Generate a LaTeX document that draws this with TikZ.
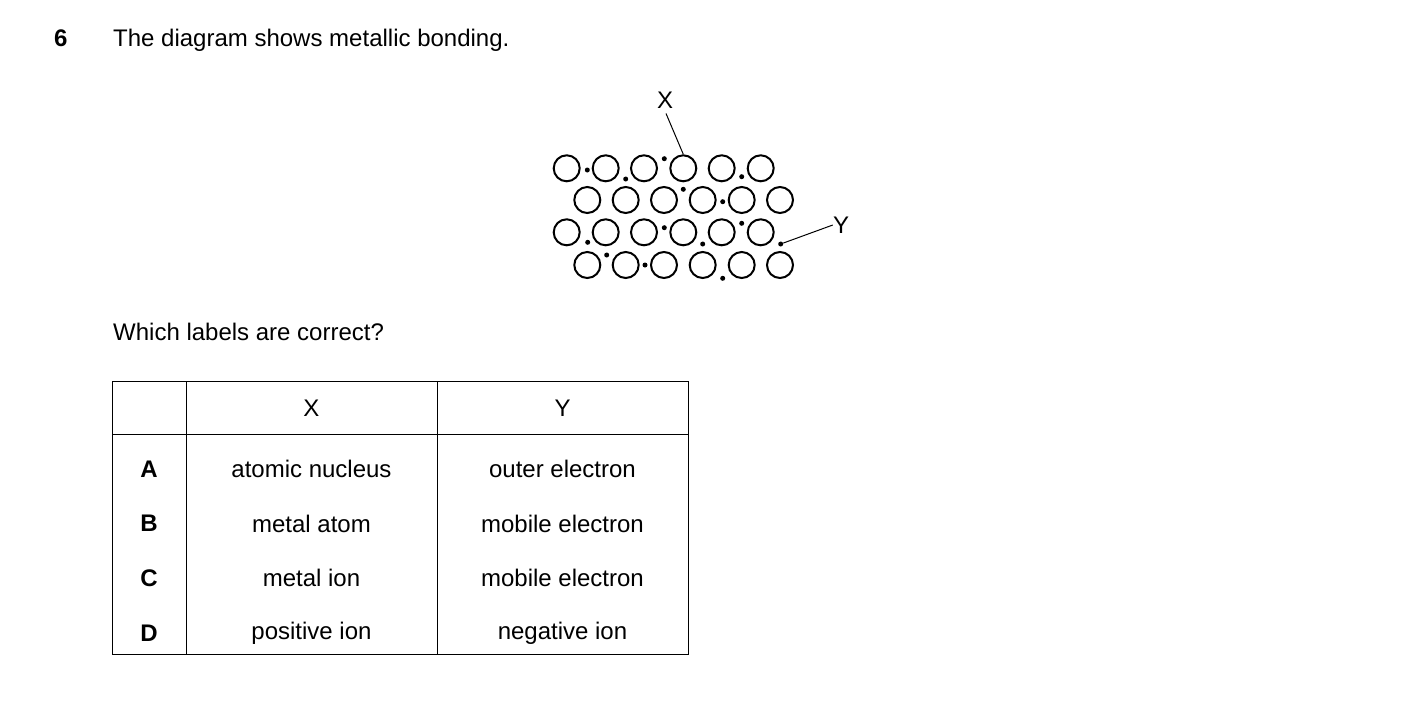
\documentclass[tikz,border=0pt]{standalone}
\usepackage{fontspec}
\setmainfont{Liberation Sans}
\begin{document}
\begin{tikzpicture}[x=1pt,y=-1pt,
  txt/.style={font=\fontsize{24}{28}\selectfont,inner sep=0pt},
  ion/.style={circle,draw,line width=2pt,minimum size=26pt,inner sep=0pt},
  el/.style={circle,fill,minimum size=5pt,inner sep=0pt},
  tl/.style={line width=1pt}]
\useasboundingbox (0,0) rectangle (1403,702);
\node[txt,anchor=base west,font=\fontsize{24}{28}\selectfont\bfseries] (num) at (54,46) {6};
\node[txt,anchor=base west] (t1) at (113,46) {The diagram shows metallic bonding.};
\node[txt,anchor=base west] (t2) at (113,340) {Which labels are correct?};
% lattice
\foreach \x [count=\i] in {566.7,605.7,644,683.3,721.7,760.7}{
  \node[ion] (a\i) at (\x,168.3) {};
  \node[ion] (c\i) at (\x,232.3) {};}
\foreach \x [count=\i] in {587.3,625.7,664,702.7,741.7,780}{
  \node[ion] (b\i) at (\x,200) {};
  \node[ion] (d\i) at (\x,265) {};}
\foreach \p [count=\i] in {(587.3,170),(625.7,179),(664.3,158.7),(741.7,176.7),(683.3,189.3),(722.7,201.7),(587.7,242.3),(664.3,227.7),(702.7,244),(741.7,223.3),(606.7,255),(645,265),(722.7,278.3)}
  \node[el] (e\i) at \p {};
\node[el] (ey) at (780.7,244) {};
\node[txt] (X) at (665,100) {X};
\node[txt] (Y) at (841,225) {Y};
\draw[tl] (X.south)++(1,5) coordinate (xs) -- (a4.north);
\draw[tl] (ey) -- (Y.west);
% table
\draw[tl] (112,381) rectangle (688,654);
\draw[tl] (112,434) -- (688,434);
\draw[tl] (186,381) -- (186,654);
\draw[tl] (437,381) -- (437,654);
\node[txt] (hx) at (311.5,408) {X};
\node[txt] (hy) at (562.5,408) {Y};
\foreach \l/\a/\b [count=\i] in {A/atomic nucleus/outer electron,B/metal atom/mobile electron,C/metal ion/mobile electron,D/positive ion/negative ion}{
  \pgfmathsetmacro\yy{469+(\i-1)*54.7}
  \node[txt,font=\fontsize{24}{28}\selectfont\bfseries] (l\i) at (149,\yy) {\l};
  \node[txt] (x\i) at (311.5,\yy) {\a};
  \node[txt] (y\i) at (562.5,\yy) {\b};}
\end{tikzpicture}
\end{document}
